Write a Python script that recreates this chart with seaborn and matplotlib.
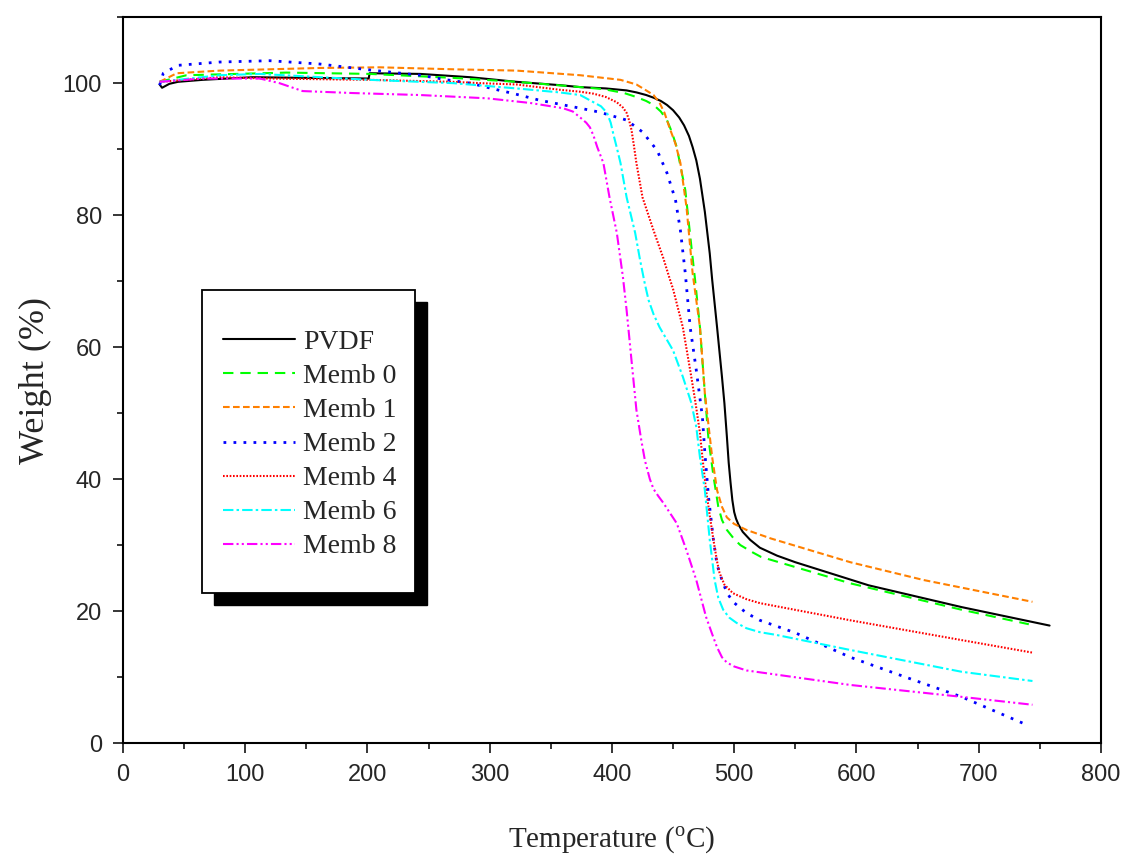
import pandas as pd
import numpy as np
import seaborn as sns
from matplotlib import pyplot as plt
from matplotlib.patches import Rectangle
from matplotlib.ticker import MultipleLocator

sns.set_style('ticks')
plt.rcParams['font.family'] = ['Liberation Sans', 'DejaVu Sans']
plt.rcParams['mathtext.fontset'] = 'custom'
plt.rcParams['mathtext.rm'] = 'Liberation Serif'

# TGA curves: temperature (C) / weight (%)
pvdf_t = [30, 32, 38, 45, 65, 106, 150, 201, 201.8, 243, 284, 322, 357, 374, 395, 412, 420, 428,
          434, 440, 445, 450, 455, 459, 463, 466, 469, 472, 476, 480, 482, 486, 490, 492, 494,
          495.5, 497, 498.5, 500, 501.5, 503.5, 507, 513, 521, 535, 550, 610, 686, 758]
pvdf_w = [99.8, 99.3, 99.9, 100.2, 100.5, 100.9, 100.8, 100.7, 101.5, 101.4, 100.9, 100.2, 99.7,
          99.4, 99.2, 98.9, 98.6, 98.2, 97.8, 97.3, 96.7, 95.9, 94.8, 93.6, 92.0, 90.3, 88.3, 85.5,
          80.5, 74.2, 70.2, 63.0, 55.5, 51.5, 46.5, 42.5, 39.5, 36.8, 35.0, 34.0, 33.1, 32.0, 30.8,
          29.6, 28.4, 27.4, 23.9, 20.6, 17.8]

m0_t = [30, 52, 134, 202, 270, 322, 368, 393, 410, 420, 428, 434, 440, 445, 449, 453, 456, 460,
        465, 468, 472, 476, 479, 483, 487, 490, 494, 500, 505, 515, 522, 595, 686, 741]
m0_w = [100.2, 101.2, 101.6, 101.4, 100.8, 100.2, 99.5, 99.1, 98.5, 97.9, 97.3, 96.7, 95.7, 94.4,
        92.6, 90.3, 87.5, 83.8, 75.2, 70.2, 63.0, 53.0, 46.0, 40.5, 35.8, 33.8, 32.3, 30.9, 30.0,
        28.9, 28.2, 24.2, 20.2, 18.0]

m1_t = [30, 44, 79, 161, 210, 270, 322, 374, 407, 420, 428, 434, 439, 443, 447, 452, 456, 461,
        466, 472, 476, 482, 486, 490, 494, 500, 510, 530, 595, 655, 744]
m1_w = [100.2, 101.5, 101.9, 102.3, 102.4, 102.1, 101.9, 101.2, 100.5, 99.8, 98.9, 98.2, 97.0,
        95.5, 93.3, 90.8, 87.9, 81.2, 71.2, 63.0, 53.0, 43.3, 38.3, 35.8, 34.2, 33.2, 32.3, 31.0,
        27.4, 24.7, 21.4]

m2_t = [30, 33, 45, 79, 120, 161, 202, 243, 265, 284, 306, 320, 341, 374, 390, 412, 425, 437,
        445, 452, 456, 460, 464, 469, 474, 476, 479, 483, 486, 490, 494, 499, 510, 521, 550, 595,
        640, 686, 740]
m2_w = [99.7, 101.5, 102.7, 103.2, 103.4, 102.9, 102.0, 101.2, 100.5, 100.0, 99.0, 98.4, 97.4,
        96.2, 95.6, 94.4, 92.6, 89.8, 86.4, 82.3, 77.7, 71.2, 63.0, 56.5, 49.4, 44.0, 37.3, 30.8,
        27.0, 24.7, 22.8, 21.4, 19.7, 18.6, 16.7, 13.0, 10.0, 7.0, 2.7]

m4_t = [30, 79, 120, 202, 270, 292, 322, 357, 374, 385, 395, 404, 409, 412, 414, 416, 418, 420,
        425, 434, 442, 447, 450, 458, 464, 468, 472, 474, 477, 480, 483, 486, 488, 492, 499, 510,
        521, 595, 686, 744]
m4_w = [100.2, 100.9, 100.7, 100.5, 100.2, 100.0, 99.8, 99.0, 98.7, 98.4, 97.9, 97.1, 96.3, 95.5,
        94.4, 92.9, 90.5, 87.9, 82.7, 77.7, 73.5, 70.5, 68.8, 63.0, 56.5, 52.0, 47.0, 43.3, 38.3,
        34.5, 30.8, 27.5, 25.8, 24.0, 22.7, 21.8, 21.2, 18.6, 15.6, 13.7]

m6_t = [30, 79, 112, 202, 270, 322, 357, 374, 385, 391, 396, 399, 401, 404, 407, 412, 419, 423,
        427, 430, 434, 439, 450, 458, 465, 469, 472, 476, 480, 484, 487, 491, 496, 502, 510, 521,
        534, 595, 686, 744]
m6_w = [100.2, 101.2, 101.4, 100.5, 100.0, 99.2, 98.6, 98.2, 97.1, 96.5, 95.5, 94.0, 92.4, 90.2,
        87.9, 82.7, 77.3, 73.2, 69.5, 67.1, 65.0, 63.0, 59.5, 55.5, 51.5, 47.9, 43.3, 38.3, 30.8,
        24.7, 22.0, 20.2, 19.0, 18.2, 17.4, 16.8, 16.4, 14.1, 10.8, 9.4]

m8_t = [30, 65, 112, 128, 147, 188, 243, 298, 333, 360, 368, 374, 379, 382, 385, 388, 393, 398,
        404, 409, 412, 416, 420, 424, 427, 431, 434, 438, 442, 453, 461, 469, 477, 482, 486, 490,
        494, 500, 510, 595, 686, 744]
m8_w = [100.2, 100.7, 100.7, 100.0, 98.8, 98.5, 98.2, 97.7, 97.0, 96.2, 95.7, 94.8, 94.0, 93.3,
        92.0, 90.3, 87.9, 82.7, 77.3, 70.6, 65.6, 58.0, 50.5, 45.9, 42.8, 40.0, 38.5, 37.4, 36.4,
        33.3, 29.2, 24.7, 19.1, 16.5, 14.5, 13.0, 12.2, 11.6, 11.0, 8.8, 7.0, 5.8]

series = [
    ('PVDF', pvdf_t, pvdf_w, 'black', '-', 1.5),
    ('Memb 0', m0_t, m0_w, '#00ff00', (0, (5, 3.3)), 1.5),
    ('Memb 1', m1_t, m1_w, '#ff8000', (0, (3.2, 1.6)), 1.5),
    ('Memb 2', m2_t, m2_w, '#0000ff', (0, (1.0, 2.6)), 2.0),
    ('Memb 4', m4_t, m4_w, '#ff0000', (0, (0.8, 0.8)), 1.5),
    ('Memb 6', m6_t, m6_w, '#00ffff', (0, (5, 1.5, 1.2, 1.5)), 1.5),
    ('Memb 8', m8_t, m8_w, '#ff00ff', (0, (5, 1.5, 1, 1.5, 1, 1.5)), 1.5),
]

fig = plt.figure(figsize=(11.28, 8.58), dpi=100)
ax = fig.add_axes([0.109, 0.134, 0.867, 0.846])

for name, t, w, col, ls, lw in series:
    df = pd.DataFrame({'T': t, 'W': w})
    sns.lineplot(data=df, x='T', y='W', ax=ax, color=col, linestyle=ls,
                 lw=lw, label=name, estimator=None)

ax.set_xlim(0, 800)
ax.set_ylim(0, 110)
ax.xaxis.set_major_locator(MultipleLocator(100))
ax.xaxis.set_minor_locator(MultipleLocator(50))
ax.yaxis.set_major_locator(MultipleLocator(20))
ax.yaxis.set_minor_locator(MultipleLocator(10))
ax.tick_params(which='major', direction='out', length=7, width=1.3, labelsize=17, pad=8)
ax.tick_params(which='minor', direction='out', length=4, width=1.3)
ax.tick_params(top=False, right=False, which='both')
for sp in ax.spines.values():
    sp.set_linewidth(1.5)
    sp.set_color('black')

ax.set_xlabel(r'Temperature ($^{\mathrm{o}}$C)', family='Liberation Serif', fontsize=21, labelpad=28)
ax.set_ylabel('Weight (%)', family='Liberation Serif', fontsize=26, labelpad=8)

# legend box with a solid drop shadow
ax.add_patch(Rectangle((0.0931, 0.190), 0.2178, 0.4174, transform=ax.transAxes,
                       facecolor='black', edgecolor='black', zorder=4))
ax.add_patch(Rectangle((0.0808, 0.2066), 0.2178, 0.4174, transform=ax.transAxes,
                       facecolor='white', edgecolor='black', lw=1.3, zorder=5))
leg = ax.legend(loc='upper left', bbox_to_anchor=(0.1022, 0.5695), borderaxespad=0,
                prop={'family': 'Liberation Serif', 'size': 20}, frameon=False,
                handlelength=2.6, handletextpad=0.3, labelspacing=0.31, borderpad=0)
leg.set_zorder(6)

fig.savefig('out.png', dpi=100)
